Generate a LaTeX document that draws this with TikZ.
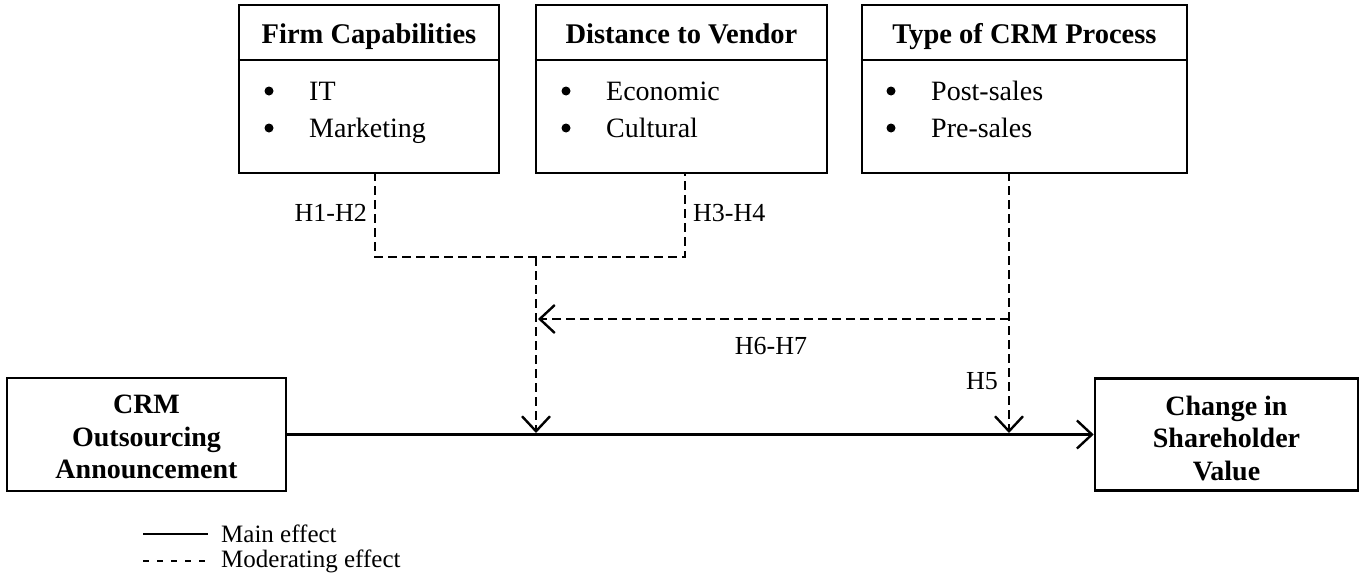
\documentclass[tikz,border=0pt]{standalone}
\usepackage{fontspec}
\setmainfont{Liberation Serif}
\usetikzlibrary{arrows.meta,calc}
\begin{document}
\begin{tikzpicture}[x=1pt,y=-1pt,
  box/.style={draw, line width=2.6pt, inner sep=0pt},
  hdr/.style={font=\fontsize{28.5}{32}\selectfont\bfseries, inner sep=0pt, anchor=base},
  item/.style={font=\fontsize{28}{32}\selectfont, inner sep=0pt, anchor=base west},
  bul/.style={circle, fill, inner sep=0pt, minimum size=9pt},
  lbl/.style={font=\fontsize{26}{30}\selectfont, inner sep=0pt},
  big/.style={font=\fontsize{28}{32.5}\selectfont\bfseries, align=center, inner sep=0pt},
  mod/.style={line width=2.4pt, dash pattern=on 9pt off 5pt},
  mainline/.style={line width=2.4pt},
  tip/.style={-{Straight Barb[length=15pt,width=28pt]}},
  leg/.style={font=\fontsize{25}{30}\selectfont, inner sep=0pt, anchor=west}]
\useasboundingbox (0,0) rectangle (1366,581);
% top boxes
\node[box, minimum width=260pt, minimum height=168pt] (firm) at (369,89) {};
\node[box, minimum width=291pt, minimum height=168pt] (dist) at (681.5,89) {};
\node[box, minimum width=325pt, minimum height=168pt] (type) at (1024.5,89) {};
\coordinate (hy) at (0,60);
\draw[line width=2.6pt] (firm.west |- hy) -- (firm.east |- hy);
\draw[line width=2.6pt] (dist.west |- hy) -- (dist.east |- hy);
\draw[line width=2.6pt] (type.west |- hy) -- (type.east |- hy);
\node[hdr] (firmh) at (369,43) {Firm Capabilities};
\node[hdr] (disth) at (681.5,43) {Distance to Vendor};
\node[hdr] (typeh) at (1024.5,43) {Type of CRM Process};
% items
\node[bul] (fb1) at (269,91) {};
\node[bul] (fb2) at (269,128) {};
\node[item] (fi1) at (309,100) {IT};
\node[item] (fi2) at (309,137) {Marketing};
\node[bul] (db1) at (566,91) {};
\node[bul] (db2) at (566,128) {};
\node[item] (di1) at (606,100) {Economic};
\node[item] (di2) at (606,137) {Cultural};
\node[bul] (tb1) at (891,91) {};
\node[bul] (tb2) at (891,128) {};
\node[item] (ti1) at (931,100) {Post-sales};
\node[item] (ti2) at (931,137) {Pre-sales};
% bottom boxes
\node[box, minimum width=279pt, minimum height=113pt] (crm) at (146.5,434.5) {};
\node[big] (crmt) at (146.5,437) {CRM\\Outsourcing\\Announcement};
\node[box, minimum width=263pt, minimum height=112pt] (chg) at (1226.5,434.5) {};
\node[big] (chgt) at (1226.5,438) {Change in\\Shareholder\\Value};
% junction coordinates
\coordinate (j1) at (375,257);
\coordinate (j2) at (685,257);
\coordinate (jm) at (536,257);
\coordinate (r) at (1009,319);
\coordinate (t1) at (538,319);
\coordinate (m1) at (536,432);
\coordinate (m2) at (1009,432);
% main effect
\draw[mainline, tip] (crm.east) -- (chg.west);
% moderating
\draw[mod] ([yshift=2pt]firm.south -| j1) -- (j1) -- (j2) -- ([yshift=2pt]dist.south -| j2);
\draw[mod, tip] (jm) -- ([yshift=-1pt]m1);
\draw[mod, tip] ([yshift=2pt]type.south -| r) -- ([yshift=-1pt]m2);
\draw[mod, tip] (r) -- (t1);
% labels
\node[lbl, anchor=east] (h12) at (367,213) {H1-H2};
\node[lbl, anchor=west] (h34) at (693,213) {H3-H4};
\node[lbl] (h67) at (771,346) {H6-H7};
\node[lbl, anchor=east] (h5) at (998,381) {H5};
% legend
\draw[line width=1.3pt] (143,534) -- (208,534);
\node[leg] (legm) at (221,534) {Main effect};
\draw[line width=1.3pt, dash pattern=on 6pt off 8pt] (143,561) -- (210,561);
\node[leg] (legd) at (221,561) {Moderating effect};
\end{tikzpicture}
\end{document}
